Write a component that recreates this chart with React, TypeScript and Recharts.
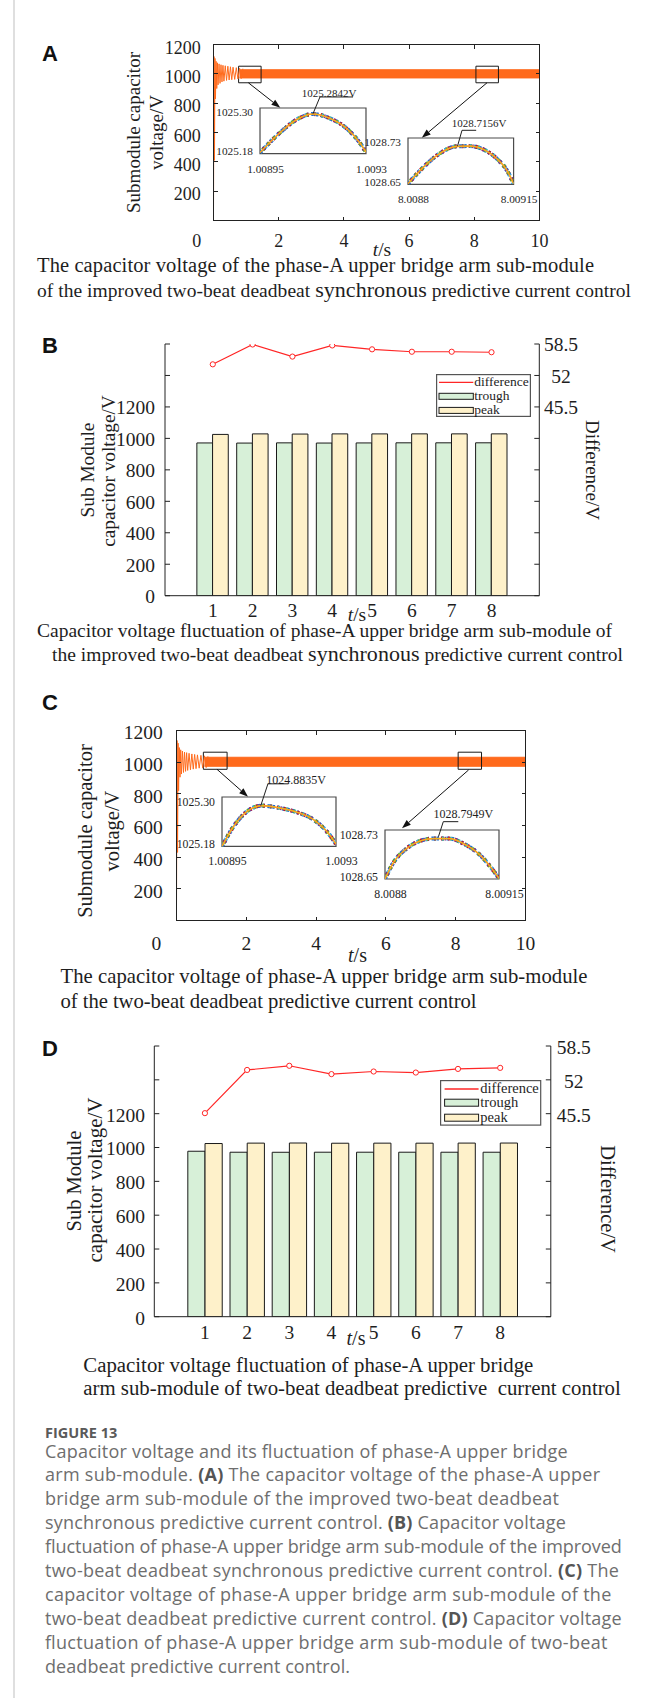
import React from "react";
import {
  ComposedChart,
  LineChart,
  Line,
  Area,
  Bar,
  XAxis,
  YAxis,
  ReferenceArea,
  ReferenceLine,
  Legend,
} from "recharts";

const SERIF = "'Liberation Serif', 'Times New Roman', serif";
const SANS = "'Liberation Sans', Arial, sans-serif";
const BODY = "'Open Sans', 'Liberation Sans', sans-serif";
const INK = "#1e1e1e";
const AXIS = "#222222";
const ORANGE = "#ff6a1c";
const RED = "#ff2626";
const GREEN = "#d7f0d8";
const YELLOW = "#fef1ca";

// ---------- (A) / (C) capacitor voltage vs time ----------
const timeTicks = [0, 2, 4, 6, 8, 10];
const voltTicks = [0, 200, 400, 600, 800, 1000, 1200];

const bandTime = [0.8, 10];
const bandLowA = [972, 972];
const bandHighA = [1028, 1028];
const bandLowC = [974, 974];
const bandHighC = [1031, 1031];

const startTime = [0, 0.015, 0.03, 0.045, 0.06, 0.08, 0.1, 0.12, 0.14, 0.17, 0.2, 0.23, 0.26, 0.29, 0.32, 0.36, 0.4, 0.44, 0.48, 0.52, 0.56, 0.6, 0.65, 0.7, 0.75, 0.8, 0.85, 0.9];
const startVoltA = [60, 1118, 410, 1105, 830, 1085, 900, 1075, 925, 1068, 935, 1062, 945, 1058, 950, 1055, 955, 1052, 958, 1048, 960, 1045, 962, 1042, 965, 1038, 968, 1035];
const startVoltC = [84, 1137, 430, 1120, 820, 1092, 905, 1078, 925, 1070, 935, 1064, 942, 1060, 948, 1056, 952, 1052, 956, 1049, 959, 1046, 962, 1043, 964, 1040, 966, 1037];

// zoom windows and arrows (data units of the main plots)
const zoomBoxesA = [
  { x1: 0.77, x2: 1.46, y1: 939, y2: 1052 },
  { x1: 8.05, x2: 8.74, y1: 939, y2: 1052 },
];
const arrowsA = [
  [{ x: 1.07, y: 939 }, { x: 2.05, y: 768 }],
  [{ x: 8.39, y: 939 }, { x: 6.39, y: 564 }],
];
const zoomBoxesC = [
  { x1: 0.77, x2: 1.45, y1: 955, y2: 1063 },
  { x1: 8.07, x2: 8.74, y1: 955, y2: 1063 },
];
const arrowsC = [
  [{ x: 1.16, y: 955 }, { x: 2.05, y: 782 }],
  [{ x: 8.37, y: 951 }, { x: 6.46, y: 582 }],
];

// insets
const insetTimeA1 = [1.00895, 1.00902, 1.00907, 1.009125, 1.00918, 1.009235, 1.00928, 1.0093];
const insetVoltA1 = [1025.183, 1025.238, 1025.269, 1025.2842, 1025.273, 1025.247, 1025.208, 1025.184];
const leaderA1 = [{ x: 1.009125, y: 1025.285 }, { x: 1.009148, y: 1025.329 }, { x: 1.009257, y: 1025.329 }];

const insetTimeA2 = [8.0088, 8.008852, 8.008896, 8.008962, 8.009006, 8.009051, 8.009095, 8.009128, 8.00915];
const insetVoltA2 = [1028.651, 1028.68, 1028.7, 1028.7156, 1028.716, 1028.71, 1028.694, 1028.674, 1028.651];
const leaderA2 = [{ x: 8.008964, y: 1028.7157 }, { x: 8.008979, y: 1028.7433 }, { x: 8.009026, y: 1028.7433 }];

const insetTimeC1 = [1.00895, 1.008986, 1.009027, 1.009073, 1.009129, 1.00918, 1.009231, 1.009272, 1.0093];
const insetVoltC1 = [1025.18, 1025.229, 1025.265, 1025.279, 1025.273, 1025.263, 1025.245, 1025.216, 1025.186];
const leaderC1 = [{ x: 1.009069, y: 1025.279 }, { x: 1.009091, y: 1025.332 }, { x: 1.009154, y: 1025.332 }];

const insetTimeC2 = [8.0088, 8.008825, 8.008867, 8.008907, 8.008948, 8.008999, 8.00904, 8.009092, 8.009128, 8.00915];
const insetVoltC2 = [1028.65, 1028.676, 1028.7, 1028.712, 1028.716, 1028.716, 1028.708, 1028.689, 1028.667, 1028.651];
const leaderC2 = [{ x: 8.008964, y: 1028.719 }, { x: 8.008979, y: 1028.7436 }, { x: 8.009025, y: 1028.7436 }];

// ---------- (B) / (D) fluctuation bars ----------
const barTimes = [1, 2, 3, 4, 5, 6, 7, 8];
const barVoltTicks = [0, 200, 400, 600, 800, 1000, 1200, 1400, 1600];
const diffTicks = [6.5, 13, 19.5, 26, 32.5, 39, 45.5, 52, 58.5];

const troughB = [971.0, 970.2, 971.6, 970.4, 971.1, 971.8, 971.8, 971.9];
const peakB = [1025.3, 1028.6, 1027.5, 1028.6, 1028.5, 1028.7, 1028.7, 1028.7];
const diffB = [54.3, 58.4, 55.9, 58.2, 57.4, 56.9, 56.9, 56.8];

const troughD = [978.0, 972.1, 971.9, 972.2, 972.2, 972.2, 972.1, 972.1];
const peakD = [1023.6, 1026.0, 1026.6, 1025.3, 1025.8, 1025.6, 1026.2, 1026.4];
const diffD = [45.6, 53.9, 54.7, 53.1, 53.6, 53.4, 54.1, 54.3];

// ---------- layout ----------
const layoutA = { top: 0, height: 270, plotLeft: 213.5, plotRight: 539.5, plotTop: 44.5, plotBottom: 220.5, fs: 18, yGap: 6.8, yDy: 9, xDy: 20.5, zeroShift: -16.8 };
const layoutC = { top: 690, height: 300, plotLeft: 176.5, plotRight: 525.5, plotTop: 730.5, plotBottom: 920.5, fs: 19.5, yGap: 7.7, yDy: 8.9, xDy: 23.2, zeroShift: -20.2 };

const layoutB = {
  top: 320, height: 300, plotLeft: 165, plotRight: 539.3, plotTop: 344, plotBottom: 595.7,
  fs: 19.5, yGap: 10, yDy: 7.4, xDy: 15.7, rightDx: 21.7, barSize: 15.7,
  legend: { left: 436, top: 54.3, w: 95, h: 43, fs: 13.5, rows: [8.4, 22.3, 36.4], patchH: 6, lineX: [3, 37.3], textX: 38.3 },
};
const layoutD = {
  top: 1020, height: 330, plotLeft: 154.3, plotRight: 550.8, plotTop: 1046, plotBottom: 1316.7,
  fs: 19.5, yGap: 9.3, yDy: 7.9, xDy: 16.4, rightDx: 23, barSize: 17.2,
  legend: { left: 440.4, top: 60, w: 101.3, h: 45.7, fs: 14.5, rows: [9, 22.7, 37.7], patchH: 7, lineX: [4.6, 38.6], textX: 40.3 },
};

// every axis gets 1px of room so that it is drawn; margins give up that pixel
const AX = 1;
const marginsFor = (L: any, sides: { t?: boolean; r?: boolean }) => ({
  top: L.plotTop - L.top - (sides.t ? AX : 0),
  bottom: L.top + L.height - L.plotBottom - AX,
  left: L.plotLeft - AX,
  right: 654 - L.plotRight - (sides.r ? AX : 0),
});

function makeTick(o: { fs: number; dx?: number; dy: number; anchor: string; label?: (v: number) => string | null; shift?: (v: number) => number }) {
  return (p: any) => {
    const v = p.payload.value;
    const s = o.label ? o.label(v) : String(v);
    if (s == null) return <g />;
    const dx = (o.dx || 0) + (o.shift ? o.shift(v) : 0);
    return (
      <text x={p.x + dx} y={p.y + o.dy} textAnchor={o.anchor as any} fontFamily={SERIF} fontSize={o.fs} fill={INK}>
        {s}
      </text>
    );
  };
}

const Arrow = (p: any) => {
  const { x1, y1, x2, y2 } = p;
  if ([x1, y1, x2, y2].some((v) => typeof v !== "number" || isNaN(v))) return <g />;
  const a = Math.atan2(y2 - y1, x2 - x1);
  const len = 9;
  const half = 3.2;
  const bx = x2 - len * Math.cos(a);
  const by = y2 - len * Math.sin(a);
  const nx = -Math.sin(a) * half;
  const ny = Math.cos(a) * half;
  return (
    <g>
      <line x1={x1} y1={y1} x2={bx} y2={by} stroke="#111" strokeWidth={1} />
      <polygon points={`${x2},${y2} ${bx + nx},${by + ny} ${bx - nx},${by - ny}`} fill="#111" />
    </g>
  );
};

function VoltageChart({ L, low, high, startVolt, boxes, arrows }: any) {
  const bandRows = bandTime.map((t, i) => ({ t, range: [low[i], high[i]] }));
  const startRows = startTime.map((t, i) => ({ t, v: startVolt[i] }));
  const margin = marginsFor(L, {});
  return (
    <div style={{ position: "absolute", left: 0, top: L.top, width: 654, height: L.height }}>
      <ComposedChart width={654} height={L.height} data={bandRows} margin={margin}>
        <XAxis type="number" dataKey="t" domain={[0, 10]} ticks={timeTicks} interval={0} allowDataOverflow height={AX}
          axisLine={false} tickLine={false} tickMargin={0}
          tick={makeTick({ fs: L.fs, dy: L.xDy, anchor: "middle", shift: (v) => (v === 0 ? L.zeroShift : 0) })} />
        <YAxis type="number" domain={[0, 1200]} ticks={voltTicks} interval={0} allowDataOverflow width={AX}
          axisLine={false} tickLine={false} tickMargin={0}
          tick={makeTick({ fs: L.fs, dx: -L.yGap, dy: L.yDy, anchor: "end", label: (v) => (v === 0 ? null : String(v)) })} />
        <Area dataKey="range" stroke={ORANGE} strokeWidth={1} fill={ORANGE} fillOpacity={1} dot={false} activeDot={false} isAnimationActive={false} />
        <Line data={startRows} dataKey="v" stroke={ORANGE} strokeWidth={1} dot={false} activeDot={false} isAnimationActive={false} />
        {boxes.map((b: any, i: number) => (
          <ReferenceArea key={`b${i}`} x1={b.x1} x2={b.x2} y1={b.y1} y2={b.y2} fill="none" stroke="#1a1a1a" strokeWidth={1} />
        ))}
        {arrows.map((s: any, i: number) => (
          <ReferenceLine key={`a${i}`} segment={s} shape={Arrow} />
        ))}
      </ComposedChart>
    </div>
  );
}

// box around a time plot, with inward ticks on all four sides (page coordinates from the layout)
function PlotFrame({ L }: any) {
  const w = L.plotRight - L.plotLeft;
  const h = L.plotBottom - L.plotTop;
  const k = 4;
  const xs = timeTicks.map((t) => L.plotLeft + (t / 10) * w);
  const ys = voltTicks.map((v) => L.plotBottom - (v / 1200) * h);
  return (
    <g stroke={AXIS} strokeWidth={1} fill="none" shapeRendering="crispEdges">
      <rect x={L.plotLeft} y={L.plotTop} width={w} height={h} />
      {xs.map((x, i) => (
        <g key={`x${i}`}>
          <line x1={x} x2={x} y1={L.plotBottom} y2={L.plotBottom - k} />
          <line x1={x} x2={x} y1={L.plotTop} y2={L.plotTop + k} />
        </g>
      ))}
      {ys.map((y, i) => (
        <g key={`y${i}`}>
          <line x1={L.plotLeft} x2={L.plotLeft + k} y1={y} y2={y} />
          <line x1={L.plotRight} x2={L.plotRight - k} y1={y} y2={y} />
        </g>
      ))}
    </g>
  );
}

function Inset({ box, time, volt, xLabels, yLabels, leader, fs }: any) {
  const pad = { l: 50, r: 50, t: 30, b: 22 };
  const W = box.w + pad.l + pad.r;
  const H = box.h + pad.t + pad.b;
  const rows = time.map((t: number, i: number) => ({ t, v: volt[i] }));
  const xDomain = [time[0], time[time.length - 1]];
  const yDomain = [Number(yLabels[0]), Number(yLabels[1])];
  const xTick = (p: any) => (
    <text x={p.x + 5.5} y={p.y + 9 + fs * 0.34} textAnchor="middle" fontFamily={SERIF} fontSize={fs} fill={INK}>
      {xLabels[p.index]}
    </text>
  );
  const yTick = (p: any) => (
    <text x={p.x - 1} y={p.y + (p.index === 1 ? 4.5 : -2.5) + fs * 0.34} textAnchor="end" fontFamily={SERIF} fontSize={fs} fill={INK}>
      {yLabels[p.index]}
    </text>
  );
  const traces = [
    { c: "#1f6fd0", w: 4, d: "2.5 2.5", o: 0 },
    { c: "#b3163a", w: 4, d: "2 5", o: 2.5 },
    { c: "#5fae2e", w: 3.8, d: "2 6", o: 4.5 },
    { c: "#35b6ea", w: 3.8, d: "1.5 7", o: 1 },
    { c: "#7e2f8e", w: 3.6, d: "1.5 9", o: 6 },
    { c: "#f08a24", w: 1.6, d: undefined, o: 0 },
    { c: "#f6c21a", w: 0.8, d: undefined, o: 0 },
  ];
  return (
    <div style={{ position: "absolute", left: box.x - pad.l, top: box.y - pad.t, width: W, height: H }}>
      <LineChart width={W} height={H} data={rows} margin={{ top: pad.t, bottom: pad.b - AX, left: pad.l - AX, right: pad.r }}>
        <XAxis type="number" dataKey="t" domain={xDomain} ticks={xDomain} interval={0} allowDataOverflow height={AX}
          axisLine={false} tickLine={false} tickMargin={0} tick={xTick} />
        <YAxis type="number" domain={yDomain} ticks={yDomain} interval={0} allowDataOverflow width={AX}
          axisLine={false} tickLine={false} tickMargin={0} tick={yTick} />
        {traces.map((tr, i) => (
          <Line key={i} type="monotone" dataKey="v" stroke={tr.c} strokeWidth={tr.w} strokeDasharray={tr.d} strokeDashoffset={tr.o}
            dot={false} activeDot={false} isAnimationActive={false} />
        ))}
        <ReferenceArea x1={xDomain[0]} x2={xDomain[1]} y1={yDomain[0]} y2={yDomain[1]} fill="none" stroke="#4b4b4b" strokeWidth={1.2} />
        <ReferenceLine segment={[leader[0], leader[1]]} ifOverflow="visible" stroke={INK} strokeWidth={1} />
        <ReferenceLine segment={[leader[1], leader[2]]} ifOverflow="visible" stroke={INK} strokeWidth={1} />
      </LineChart>
    </div>
  );
}

function FluctuationChart({ L, trough, peak, diff }: any) {
  const rows = barTimes.map((t, i) => ({ t, trough: trough[i], peak: peak[i], diff: diff[i] }));
  const margin = marginsFor(L, { r: true });
  const line = { stroke: AXIS, strokeWidth: 1 };
  const lg = L.legend;
  const legendContent = (props: any) => {
    const items = props.payload || [];
    const find = (k: string) => items.find((e: any) => e.dataKey === k) || { value: k };
    const tb = (r: number) => r + lg.fs * 0.3;
    return (
      <svg width={lg.w} height={lg.h} style={{ display: "block" }}>
        <rect x={0.6} y={0.6} width={lg.w - 1.2} height={lg.h - 1.2} fill="#fff" stroke="#555" strokeWidth={1.2} />
        <line x1={lg.lineX[0]} x2={lg.lineX[1]} y1={lg.rows[0]} y2={lg.rows[0]} stroke={RED} strokeWidth={1.4} />
        <text x={lg.textX} y={tb(lg.rows[0])} fontFamily={SERIF} fontSize={lg.fs} fill={INK}>{find("diff").value}</text>
        <rect x={lg.lineX[0]} y={lg.rows[1] - lg.patchH / 2} width={lg.lineX[1] - lg.lineX[0]} height={lg.patchH} fill={GREEN} stroke="#1a1a1a" strokeWidth={1} />
        <text x={lg.textX} y={tb(lg.rows[1])} fontFamily={SERIF} fontSize={lg.fs} fill={INK}>{find("trough").value}</text>
        <rect x={lg.lineX[0]} y={lg.rows[2] - lg.patchH / 2} width={lg.lineX[1] - lg.lineX[0]} height={lg.patchH} fill={YELLOW} stroke="#1a1a1a" strokeWidth={1} />
        <text x={lg.textX} y={tb(lg.rows[2])} fontFamily={SERIF} fontSize={lg.fs} fill={INK}>{find("peak").value}</text>
      </svg>
    );
  };
  return (
    <div style={{ position: "absolute", left: 0, top: L.top, width: 654, height: L.height }}>
      <ComposedChart width={654} height={L.height} data={rows} margin={margin} barGap={0} barSize={L.barSize}>
        <XAxis type="number" dataKey="t" domain={[-0.2, 9.2]} ticks={barTimes} interval={0} allowDataOverflow height={AX}
          axisLine={line} tickLine={false} tickMargin={0} tick={makeTick({ fs: L.fs, dy: L.xDy, anchor: "middle" })} />
        <YAxis yAxisId="v" type="number" domain={[0, 1600]} ticks={barVoltTicks} interval={0} allowDataOverflow width={AX}
          axisLine={line} tickLine={line} tickSize={-5} tickMargin={5}
          tick={makeTick({ fs: L.fs, dx: -L.yGap, dy: L.yDy, anchor: "end", label: (v) => (v <= 1200 ? String(v) : null) })} />
        <YAxis yAxisId="d" orientation="right" type="number" domain={[6.5, 58.5]} ticks={diffTicks} interval={0} allowDataOverflow width={AX}
          axisLine={line} tickLine={line} tickSize={-5} tickMargin={5}
          tick={makeTick({ fs: L.fs, dx: L.rightDx, dy: L.yDy, anchor: "middle", label: (v) => (v >= 45 ? String(v) : null) })} />
        <Bar yAxisId="v" dataKey="trough" name="trough" fill={GREEN} stroke="#1a1a1a" strokeWidth={1} isAnimationActive={false} />
        <Bar yAxisId="v" dataKey="peak" name="peak" fill={YELLOW} stroke="#1a1a1a" strokeWidth={1} isAnimationActive={false} />
        <Line yAxisId="d" dataKey="diff" name="difference" stroke={RED} strokeWidth={1.2}
          dot={{ r: 2.6, stroke: RED, strokeWidth: 1, fill: "#fff" }} activeDot={false} isAnimationActive={false} />
        <Legend layout="vertical" align="center" verticalAlign="middle" content={legendContent}
          wrapperStyle={{ position: "absolute", left: lg.left, top: lg.top, width: lg.w, height: lg.h }} />
      </ComposedChart>
    </div>
  );
}

// ---------- text overlay ----------
const captionLines: Array<Array<[string, boolean]>> = [
  [["Capacitor voltage and its fluctuation of phase-A upper bridge", false]],
  [["arm sub-module. ", false], ["(A)", true], [" The capacitor voltage of the phase-A upper", false]],
  [["bridge arm sub-module of the improved two-beat deadbeat", false]],
  [["synchronous predictive current control. ", false], ["(B)", true], [" Capacitor voltage", false]],
  [["fluctuation of phase-A upper bridge arm sub-module of the improved", false]],
  [["two-beat deadbeat synchronous predictive current control. ", false], ["(C)", true], [" The", false]],
  [["capacitor voltage of phase-A upper bridge arm sub-module of the", false]],
  [["two-beat deadbeat predictive current control. ", false], ["(D)", true], [" Capacitor voltage", false]],
  [["fluctuation of phase-A upper bridge arm sub-module of two-beat", false]],
  [["deadbeat predictive current control.", false]],
];
const captionEnds = [567.5, 600, 559, 565.8, 621.7, 618.8, 611.3, 621.7, 607.5, 350];

const Cap = ({ x, y, fs, len, children }: any) => (
  <text x={x} y={y} fontFamily={SERIF} fontSize={fs} fill={INK} textLength={len} lengthAdjust="spacing" style={{ whiteSpace: "pre" }}>
    {children}
  </text>
);

const VLabel = ({ x, y, fs, rot, children }: any) => (
  <text transform={`translate(${x},${y}) rotate(${rot})`} textAnchor="middle" fontFamily={SERIF} fontSize={fs} fill={INK}>
    {children}
  </text>
);

const TS = ({ x, y, fs }: any) => (
  <text x={x} y={y} textAnchor="middle" fontFamily={SERIF} fontSize={fs} fill={INK}>
    <tspan fontStyle="italic">t</tspan>/s
  </text>
);

function Overlay() {
  return (
    <svg width={654} height={1698} style={{ position: "absolute", left: 0, top: 0, pointerEvents: "none" }}>
      <line x1={14} x2={14} y1={0} y2={1698} stroke="#d4d4d4" strokeWidth={1.5} />
      <PlotFrame L={layoutA} />
      <PlotFrame L={layoutC} />
      {[["A", 61], ["B", 352.5], ["C", 709.5], ["D", 1056]].map(([s, y]) => (
        <text key={s as string} x={42} y={y as number} fontFamily={SANS} fontWeight="bold" fontSize={22} fill="#111">{s}</text>
      ))}

      {/* A */}
      <VLabel x={139.5} y={132.5} fs={19} rot={-90}>Submodule capacitor</VLabel>
      <VLabel x={162.5} y={132.5} fs={19} rot={-90}>voltage/V</VLabel>
      <TS x={382} y={256} fs={19.5} />
      <text x={329} y={96.5} textAnchor="middle" fontFamily={SERIF} fontSize={11} fill={INK}>1025.2842V</text>
      <text x={479} y={127} textAnchor="middle" fontFamily={SERIF} fontSize={11} fill={INK}>1028.7156V</text>
      <Cap x={37} y={272} fs={20.5} len={557}>The capacitor voltage of the phase-A upper bridge arm sub-module</Cap>
      <Cap x={37} y={296.8} fs={19.5} len={594}>
        of the improved two-beat deadbeat <tspan fontSize={22}>synchronous</tspan> predictive current control
      </Cap>

      {/* B */}
      <VLabel x={94} y={470} fs={19.3} rot={-90}>Sub Module</VLabel>
      <VLabel x={115} y={471} fs={19.3} rot={-90}>capacitor voltage/V</VLabel>
      <VLabel x={586} y={470} fs={19} rot={90}>Difference/V</VLabel>
      <TS x={357} y={621} fs={19.5} />
      <Cap x={37} y={636.5} fs={19.5} len={575}>Capacitor voltage fluctuation of phase-A upper bridge arm sub-module of</Cap>
      <Cap x={52} y={661} fs={19.5} len={571}>
        the improved two-beat deadbeat <tspan fontSize={22}>synchronous</tspan> predictive current control
      </Cap>

      {/* C */}
      <VLabel x={92} y={831} fs={20.5} rot={-90}>Submodule capacitor</VLabel>
      <VLabel x={119} y={831} fs={20.5} rot={-90}>voltage/V</VLabel>
      <TS x={357.5} y={961.5} fs={20} />
      <text x={296} y={784.2} textAnchor="middle" fontFamily={SERIF} fontSize={12} fill={INK}>1024.8835V</text>
      <text x={463.3} y={818.3} textAnchor="middle" fontFamily={SERIF} fontSize={12} fill={INK}>1028.7949V</text>
      <Cap x={60.5} y={983} fs={20.7} len={527}>The capacitor voltage of phase-A upper bridge arm sub-module</Cap>
      <Cap x={60.5} y={1007.5} fs={20.7} len={416}>of the two-beat deadbeat predictive current control</Cap>

      {/* D */}
      <VLabel x={81} y={1181} fs={20.5} rot={-90}>Sub Module</VLabel>
      <VLabel x={102} y={1180} fs={21} rot={-90}>capacitor voltage/V</VLabel>
      <VLabel x={601} y={1199} fs={20.5} rot={90}>Difference/V</VLabel>
      <TS x={356} y={1345} fs={20} />
      <Cap x={83.3} y={1371.7} fs={20.8} len={450}>Capacitor voltage fluctuation of phase-A upper bridge</Cap>
      <Cap x={83.3} y={1395} fs={20.8} len={537.5}>arm sub-module of two-beat deadbeat predictive  current control</Cap>

      {/* figure caption */}
      <text x={45} y={1438.3} fontFamily={BODY} fontWeight="bold" fontSize={14.5} fill="#5a5a5a">FIGURE 13</text>
      {captionLines.map((segs, i) => (
        <text key={i} x={45} y={1457.5 + i * 23.9} fontFamily={BODY} fontSize={18} fill="#6e6e6e"
          textLength={captionEnds[i] - 45} lengthAdjust="spacing" style={{ whiteSpace: "pre" }}>
          {segs.map(([s, b], j) => (
            <tspan key={j} fontWeight={b ? "bold" : "normal"} fill={b ? "#555" : "#6e6e6e"}>{s}</tspan>
          ))}
        </text>
      ))}
    </svg>
  );
}

export default function App() {
  return (
    <div style={{ position: "absolute", left: 0, top: 0, width: 654, height: 1698, background: "#fff", overflow: "hidden" }}>
      <VoltageChart L={layoutA} low={bandLowA} high={bandHighA} startVolt={startVoltA} boxes={zoomBoxesA} arrows={arrowsA} />
      <Inset box={{ x: 260, y: 108.3, w: 106, h: 45.7 }} time={insetTimeA1} volt={insetVoltA1}
        xLabels={["1.00895", "1.0093"]} yLabels={["1025.18", "1025.30"]} leader={leaderA1} fs={11.3} />
      <Inset box={{ x: 407.7, y: 137.7, w: 105.6, h: 46.3 }} time={insetTimeA2} volt={insetVoltA2}
        xLabels={["8.0088", "8.00915"]} yLabels={["1028.65", "1028.73"]} leader={leaderA2} fs={11.3} />

      <FluctuationChart L={layoutB} trough={troughB} peak={peakB} diff={diffB} />

      <VoltageChart L={layoutC} low={bandLowC} high={bandHighC} startVolt={startVoltC} boxes={zoomBoxesC} arrows={arrowsC} />
      <Inset box={{ x: 221.7, y: 797.3, w: 114, h: 49.4 }} time={insetTimeC1} volt={insetVoltC1}
        xLabels={["1.00895", "1.0093"]} yLabels={["1025.18", "1025.30"]} leader={leaderC1} fs={11.8} />
      <Inset box={{ x: 385, y: 830, w: 114, h: 49 }} time={insetTimeC2} volt={insetVoltC2}
        xLabels={["8.0088", "8.00915"]} yLabels={["1028.65", "1028.73"]} leader={leaderC2} fs={11.8} />

      <FluctuationChart L={layoutD} trough={troughD} peak={peakD} diff={diffD} />

      <Overlay />
    </div>
  );
}
